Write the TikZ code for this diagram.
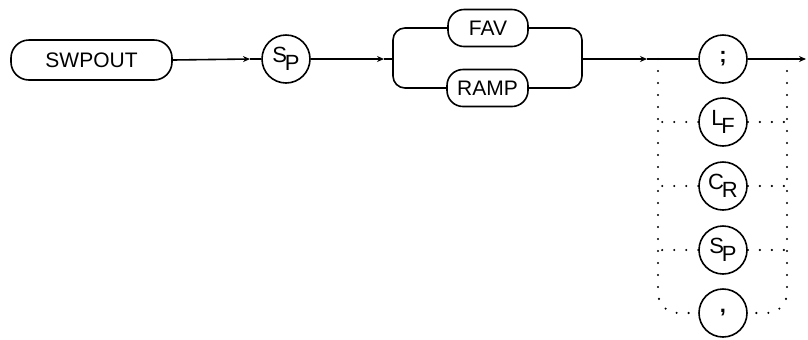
\documentclass[tikz,border=0pt]{standalone}
\usepackage{fontspec}
\setmainfont{Liberation Sans}
\usetikzlibrary{arrows.meta}
\tikzset{
  keybox/.style={draw,line width=.8pt,rounded corners=8pt,inner sep=0pt,minimum height=18.5pt,font=\fontsize{10.5}{12}\selectfont},
  charcircle/.style={draw,circle,line width=.8pt,minimum size=24pt,inner sep=0pt,font=\fontsize{11}{12}\selectfont},
  flow/.style={line width=.8pt},
  flowtip/.style={flow,-{Stealth[length=3.5pt,width=3pt]}},
  option/.style={line width=1.2pt,line cap=round,dash pattern=on 0pt off 6pt},
}
\newcommand{\lowpair}[2]{#1\kern-.1em\raisebox{-.7ex}{#2}}
\begin{document}
\begin{tikzpicture}[x=.5pt,y=-.5pt]
\useasboundingbox (0,0) rectangle (808,339);
% command word and the separator after it
\node[keybox,minimum width=80.5pt,minimum height=20pt,rounded corners=9pt] (swpout) at (91.5,60) {SWPOUT};
\node[charcircle] (sp) at (286,59) {\lowpair{S}{P}};
\coordinate (a1) at (250,59);
\draw[flowtip] (swpout.east) -- (a1);
\draw[flow] (a1) -- (sp.west);
% choice between FAV and RAMP
\node[keybox,minimum width=40pt] (fav) at (488,28) {FAV};
\node[keybox,minimum width=40.5pt] (ramp) at (487.5,88) {RAMP};
\coordinate (a2) at (384,59);
\coordinate (splitL) at (393,59);
\coordinate (splitR) at (582,59);
\draw[flowtip] (sp.east) -- (a2);
\draw[flow] (a2) -- (splitL);
\draw[flow,rounded corners=6pt] (fav.west) -| (splitL) |- (ramp.west);
\draw[flow,rounded corners=6pt] (fav.east) -| (splitR) |- (ramp.east);
% terminators
\node[charcircle] (semi) at (723,59) {\textbf{;}};
\node[charcircle] (lf) at (723,122) {\lowpair{L}{F}};
\node[charcircle] (cr) at (723,186) {\lowpair{C}{R}};
\node[charcircle] (sp2) at (723,250) {\lowpair{S}{P}};
\node[charcircle] (comma) at (723,313) {\textbf{,}};
\coordinate (a3) at (647,59);
\coordinate (joinL) at (658,59);
\coordinate (joinR) at (787,59);
\coordinate (tail) at (806,59);
\draw[flowtip] (splitR) -- (a3);
\draw[flow] (a3) -- (semi.west);
\draw[flowtip] (semi.east) -- (tail);
\draw[option,rounded corners=10pt] (joinL) |- (comma.west);
\draw[option,rounded corners=10pt] (joinR) |- (comma.east);
\foreach \n in {lf,cr,sp2}{
  \draw[option] (\n.west) -- (joinL |- \n.west);
  \draw[option] (\n.east) -- (joinR |- \n.east);
}
\end{tikzpicture}
\end{document}
